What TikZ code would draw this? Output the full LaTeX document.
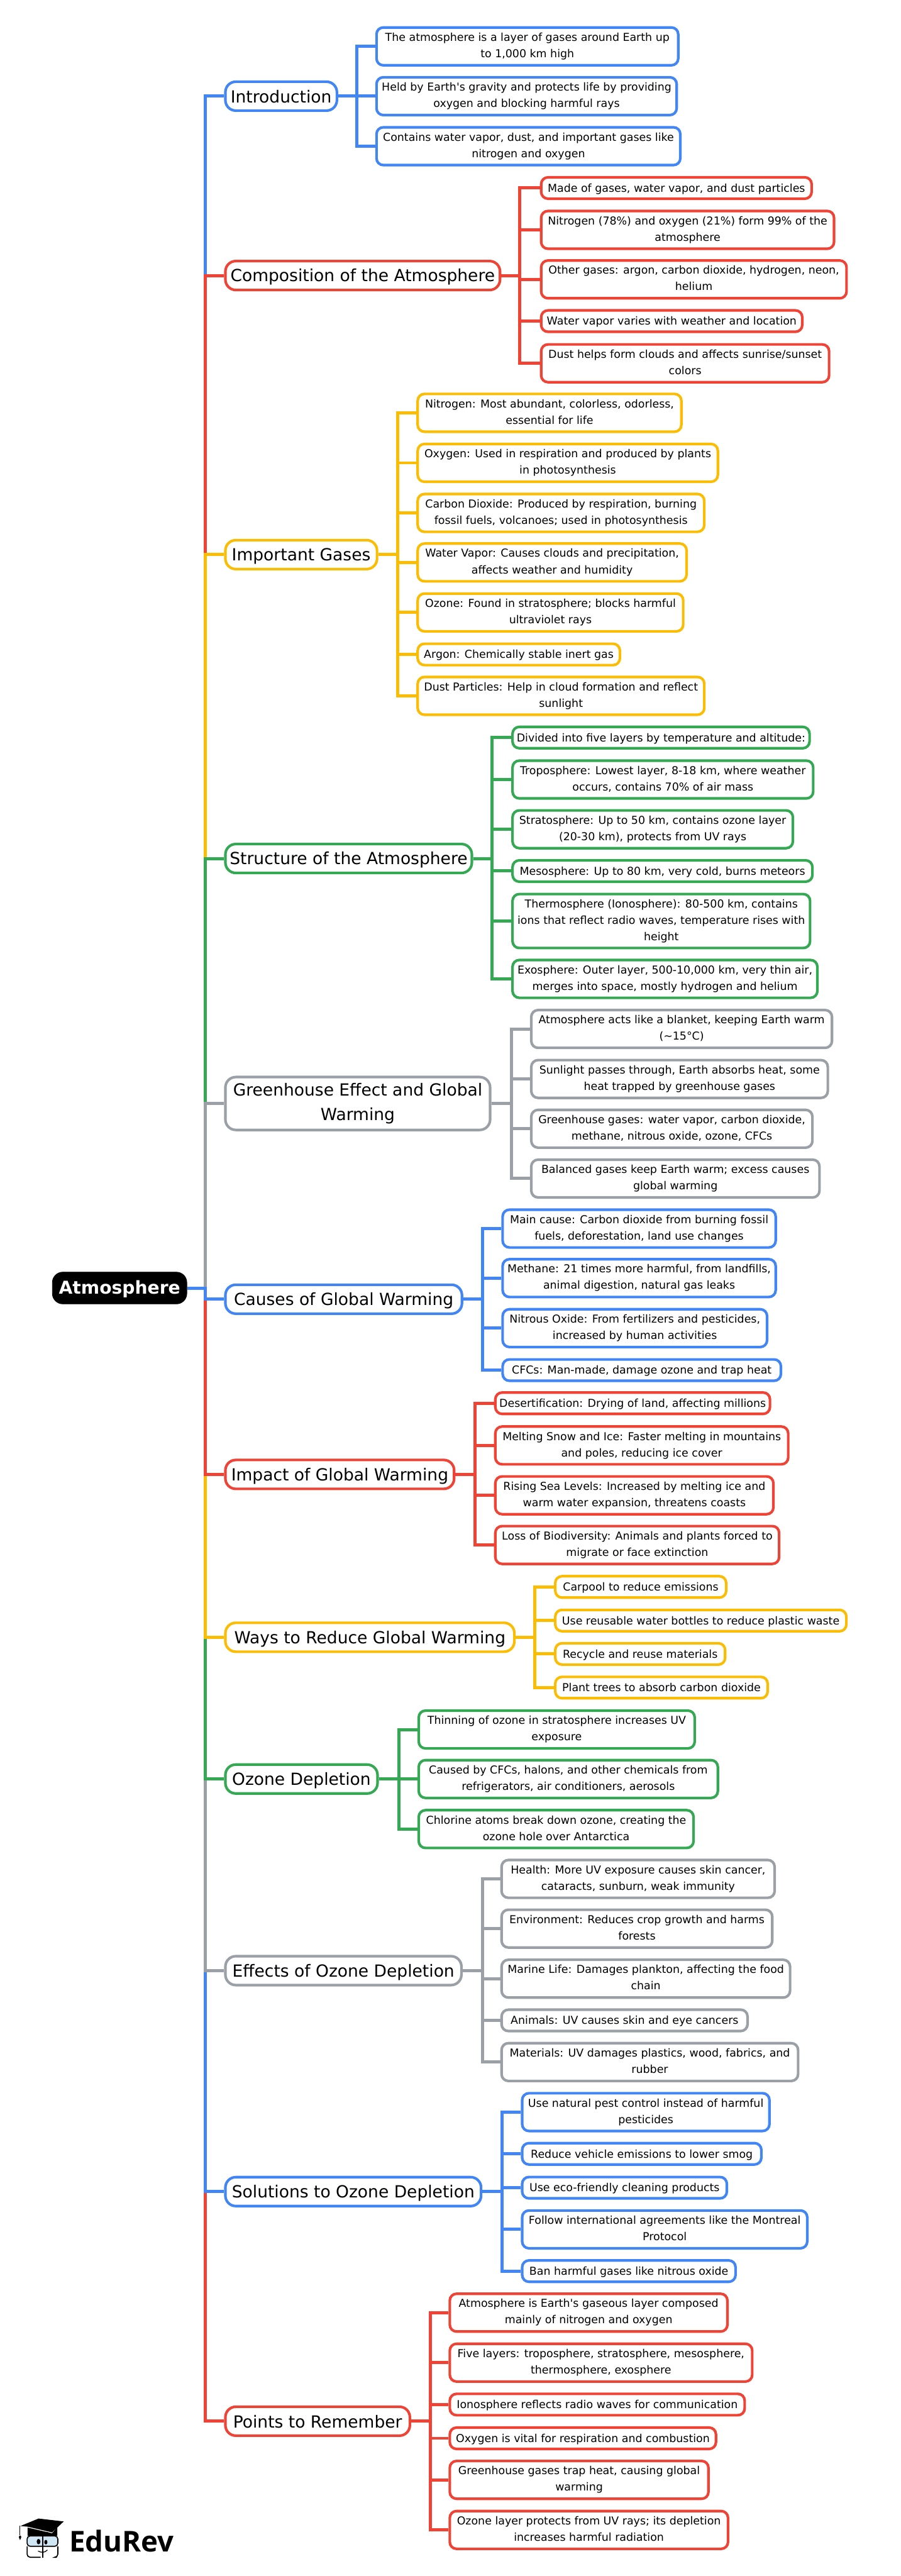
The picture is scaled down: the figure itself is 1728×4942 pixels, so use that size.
\documentclass[tikz,border=0pt]{standalone}
\usepackage{fontspec}
\setmainfont{DejaVu Sans}
\newfontfamily\logofont{Open Sans}
\usetikzlibrary{backgrounds}
\definecolor{cB}{HTML}{4285F4}
\definecolor{cR}{HTML}{EF4336}
\definecolor{cY}{HTML}{FBBC04}
\definecolor{cG}{HTML}{34A853}
\definecolor{cK}{HTML}{9AA0A6}
\definecolor{cLens}{HTML}{CFE6F5}
\tikzset{
  rootbox/.style={draw=black,fill=black,text=white,line width=1pt,rounded corners=20pt,inner sep=0pt,
    minimum width=258pt,minimum height=61pt,align=center,font=\fontsize{34}{48}\selectfont\bfseries,
    execute at begin node={\rule{0pt}{30pt}},execute at end node={\rule[-4pt]{0pt}{4pt}}},
  topic/.style={draw=#1,fill=white,text=black,line width=5pt,rounded corners=20pt,inner sep=0pt,
    minimum height=55.5pt,align=center,font=\fontsize{32}{47.5}\selectfont,
    execute at begin node={\rule{0pt}{30pt}},execute at end node={\rule[-5.6pt]{0pt}{5.6pt}}},
  kid/.style={draw=#1,fill=white,text=black,line width=5pt,rounded corners=13pt,inner sep=0pt,
    align=center,font=\fontsize{21}{31.4}\selectfont,
    execute at begin node={\rule{0pt}{20pt}},execute at end node={\rule[-4.6pt]{0pt}{4.6pt}}},
  h1/.style={minimum height=41pt},
  h2/.style={minimum height=72.5pt},
  h3/.style={minimum height=103.5pt},
  link/.style={draw=#1,line width=6pt},
}
\begin{document}
\begin{tikzpicture}[x=1pt,y=-1pt]
\useasboundingbox (0,0) rectangle (1728,4942);
\node[rootbox] (root) at (229.5,2471) {Atmosphere};
% topics
\node[topic=cB,minimum width=214pt] (t1) at (539.5,184.5) {Introduction};
\node[topic=cR,minimum width=527pt] (t2) at (696,528.6) {Composition of the Atmosphere};
\node[topic=cY,minimum width=291pt] (t3) at (578,1064) {Important Gases};
\node[topic=cG,minimum width=473pt] (t4) at (669,1647) {Structure of the Atmosphere};
\node[topic=cK,minimum width=508pt,minimum height=101.5pt] (t5) at (686.5,2117) {Greenhouse Effect and Global\\Warming};
\node[topic=cB,minimum width=454pt] (t6) at (659.5,2492.5) {Causes of Global Warming};
\node[topic=cR,minimum width=439pt] (t7) at (652,2828.6) {Impact of Global Warming};
\node[topic=cY,minimum width=554.6pt] (t8) at (709.8,3141) {Ways to Reduce Global Warming};
\node[topic=cG,minimum width=292pt] (t9) at (578.5,3413) {Ozone Depletion};
\node[topic=cK,minimum width=453pt] (t10) at (659,3780.6) {Effects of Ozone Depletion};
\node[topic=cB,minimum width=490.7pt] (t11) at (677.85,4204.5) {Solutions to Ozone Depletion};
\node[topic=cR,minimum width=354pt] (t12) at (609.5,4645) {Points to Remember};
% Introduction
\node[kid=cB,h2,minimum width=579pt] (a1) at (1012,89) {The atmosphere is a layer of gases around Earth up\\to 1,000 km high};
\node[kid=cB,h2,minimum width=576pt] (a2) at (1010.5,184.5) {Held by Earth\textquotesingle s gravity and protects life by providing\\oxygen and blocking harmful rays};
\node[kid=cB,h2,minimum width=583pt] (a3) at (1014,280.5) {Contains water vapor, dust, and important gases like\\nitrogen and oxygen};
% Composition
\node[kid=cR,h1,minimum width=519pt] (b1) at (1298,360.7) {Made of gases, water vapor, and dust particles};
\node[kid=cR,h2,minimum width=562pt] (b2) at (1319.5,441) {Nitrogen (78\%) and oxygen (21\%) form 99\% of the\\atmosphere};
\node[kid=cR,h2,minimum width=586pt] (b3) at (1331.5,536) {Other gases: argon, carbon dioxide, hydrogen, neon,\\helium};
\node[kid=cR,h1,minimum width=501pt] (b4) at (1289,616) {Water vapor varies with weather and location};
\node[kid=cR,h2,minimum width=552.5pt] (b5) at (1314.75,697) {Dust helps form clouds and affects sunrise/sunset\\colors};
% Important gases
\node[kid=cY,h2,minimum width=506pt] (c1) at (1054.5,792) {Nitrogen: Most abundant, colorless, odorless,\\essential for life};
\node[kid=cY,h2,minimum width=576pt] (c2) at (1089.5,888) {Oxygen: Used in respiration and produced by plants\\in photosynthesis};
\node[kid=cY,h2,minimum width=550pt] (c3) at (1076.5,984) {Carbon Dioxide: Produced by respiration, burning\\fossil fuels, volcanoes; used in photosynthesis};
\node[kid=cY,h2,minimum width=516pt] (c4) at (1059.5,1079) {Water Vapor: Causes clouds and precipitation,\\affects weather and humidity};
\node[kid=cY,h2,minimum width=509.6pt] (c5) at (1056.3,1175) {Ozone: Found in stratosphere; blocks harmful\\ultraviolet rays};
\node[kid=cY,h1,minimum width=388pt] (c6) at (995.5,1255.5) {Argon: Chemically stable inert gas};
\node[kid=cY,h2,minimum width=550pt] (c7) at (1076.5,1335) {Dust Particles: Help in cloud formation and reflect\\sunlight};
% Structure
\node[kid=cG,h1,minimum width=570pt] (d1) at (1268.5,1415) {Divided into five layers by temperature and altitude:};
\node[kid=cG,h2,minimum width=577pt] (d2) at (1272,1495.5) {Troposphere: Lowest layer, 8-18 km, where weather\\occurs, contains 70\% of air mass};
\node[kid=cG,h2,minimum width=538pt] (d3) at (1252.5,1591) {Stratosphere: Up to 50 km, contains ozone layer\\(20-30 km), protects from UV rays};
\node[kid=cG,h1,minimum width=575.5pt] (d4) at (1271.25,1671) {Mesosphere: Up to 80 km, very cold, burns meteors};
\node[kid=cG,h3,minimum width=571pt] (d5) at (1269,1767) {Thermosphere (Ionosphere): 80-500 km, contains\\ions that reflect radio waves, temperature rises with\\height};
\node[kid=cG,h2,minimum width=585pt] (d6) at (1276,1878) {Exosphere: Outer layer, 500-10,000 km, very thin air,\\merges into space, mostly hydrogen and helium};
% Greenhouse
\node[kid=cK,h2,minimum width=577pt] (e1) at (1308,1974) {Atmosphere acts like a blanket, keeping Earth warm\\(\textasciitilde 15°C)};
\node[kid=cK,h2,minimum width=569pt] (e2) at (1304,2070) {Sunlight passes through, Earth absorbs heat, some\\heat trapped by greenhouse gases};
\node[kid=cK,h2,minimum width=539.5pt] (e3) at (1289.25,2165.5) {Greenhouse gases: water vapor, carbon dioxide,\\methane, nitrous oxide, ozone, CFCs};
\node[kid=cK,h2,minimum width=553pt] (e4) at (1296,2261) {Balanced gases keep Earth warm; excess causes\\global warming};
% Causes
\node[kid=cB,h2,minimum width=524pt] (f1) at (1226.5,2357) {Main cause: Carbon dioxide from burning fossil\\fuels, deforestation, land use changes};
\node[kid=cB,h2,minimum width=524pt] (f2) at (1226.5,2452) {Methane: 21 times more harmful, from landfills,\\animal digestion, natural gas leaks};
\node[kid=cB,h2,minimum width=507.5pt] (f3) at (1218.25,2548) {Nitrous Oxide: From fertilizers and pesticides,\\increased by human activities};
\node[kid=cB,h1,minimum width=534pt] (f4) at (1231.5,2628.5) {CFCs: Man-made, damage ozone and trap heat};
% Impact
\node[kid=cR,h1,minimum width=527pt] (g1) at (1214,2692) {Desertification: Drying of land, affecting millions};
\node[kid=cR,h2,minimum width=562pt] (g2) at (1231.5,2773) {Melting Snow and Ice: Faster melting in mountains\\and poles, reducing ice cover};
\node[kid=cR,h2,minimum width=533.6pt] (g3) at (1217.3,2868.7) {Rising Sea Levels: Increased by melting ice and\\warm water expansion, threatens coasts};
\node[kid=cR,h2,minimum width=544.6pt] (g4) at (1222.8,2964) {Loss of Biodiversity: Animals and plants forced to\\migrate or face extinction};
% Ways
\node[kid=cY,h1,minimum width=328pt] (h1n) at (1229.5,3044.4) {Carpool to reduce emissions};
\node[kid=cY,h1,minimum width=558.6pt] (h2n) at (1344.8,3109) {Use reusable water bottles to reduce plastic waste};
\node[kid=cY,h1,minimum width=326pt] (h3n) at (1228.5,3173) {Recycle and reuse materials};
\node[kid=cY,h1,minimum width=407.6pt] (h4n) at (1269.3,3237.5) {Plant trees to absorb carbon dioxide};
% Ozone depletion
\node[kid=cG,h2,minimum width=529.6pt] (i1) at (1068.3,3318) {Thinning of ozone in stratosphere increases UV\\exposure};
\node[kid=cG,h2,minimum width=574pt] (i2) at (1090.5,3413) {Caused by CFCs, halons, and other chemicals from\\refrigerators, air conditioners, aerosols};
\node[kid=cG,h2,minimum width=527.4pt] (i3) at (1067.2,3509) {Chlorine atoms break down ozone, creating the\\ozone hole over Antarctica};
% Effects
\node[kid=cK,h2,minimum width=524pt] (j1) at (1224.5,3604.6) {Health: More UV exposure causes skin cancer,\\cataracts, sunburn, weak immunity};
\node[kid=cK,h2,minimum width=519.4pt] (j2) at (1222.2,3700) {Environment: Reduces crop growth and harms\\forests};
\node[kid=cK,h2,minimum width=553.6pt] (j3) at (1239.3,3796) {Marine Life: Damages plankton, affecting the food\\chain};
\node[kid=cK,h1,minimum width=472pt] (j4) at (1198.5,3876) {Animals: UV causes skin and eye cancers};
\node[kid=cK,h2,minimum width=569pt] (j5) at (1247,3956) {Materials: UV damages plastics, wood, fabrics, and\\rubber};
% Solutions
\node[kid=cB,h2,minimum width=474.5pt] (k1) at (1239.25,4052) {Use natural pest control instead of harmful\\pesticides};
\node[kid=cB,h1,minimum width=459pt] (k2) at (1231.5,4132) {Reduce vehicle emissions to lower smog};
\node[kid=cB,h1,minimum width=392.8pt] (k3) at (1198.4,4197) {Use eco-friendly cleaning products};
\node[kid=cB,h2,minimum width=547.1pt] (k4) at (1275.55,4277) {Follow international agreements like the Montreal\\Protocol};
\node[kid=cB,h1,minimum width=409.5pt] (k5) at (1206.75,4357) {Ban harmful gases like nitrous oxide};
% Points
\node[kid=cR,h2,minimum width=532.8pt] (l1) at (1129.5,4436.7) {Atmosphere is Earth\textquotesingle s gaseous layer composed\\mainly of nitrogen and oxygen};
\node[kid=cR,h2,minimum width=580.4pt] (l2) at (1153.3,4532.7) {Five layers: troposphere, stratosphere, mesosphere,\\thermosphere, exosphere};
\node[kid=cR,h1,minimum width=565.9pt] (l3) at (1146.05,4613) {Ionosphere reflects radio waves for communication};
\node[kid=cR,h1,minimum width=510.8pt] (l4) at (1118.5,4677.7) {Oxygen is vital for respiration and combustion};
\node[kid=cR,h2,minimum width=496.4pt] (l5) at (1111.3,4757.5) {Greenhouse gases trap heat, causing global\\warming};
\node[kid=cR,h2,minimum width=533.9pt] (l6) at (1130.05,4853.6) {Ozone layer protects from UV rays; its depletion\\increases harmful radiation};
% connectors, under the boxes
\begin{pgfonlayer}{background}
\foreach \t/\c in {t1/cB,t2/cR,t3/cY,t4/cG,t5/cK,t12/cR,t11/cB,t10/cK,t9/cG,t8/cY,t7/cR,t6/cB}
  \draw[link=\c] (root.east) -- ++(35,0) |- (\t.west);
\foreach \k in {a1,a2,a3} \draw[link=cB] (t1.east) -- ++(36,0) |- (\k.west);
\foreach \k in {b1,b2,b3,b4,b5} \draw[link=cR] (t2.east) -- ++(35,0) |- (\k.west);
\foreach \k in {c1,c2,c3,c4,c5,c6,c7} \draw[link=cY] (t3.east) -- ++(36.6,0) |- (\k.west);
\foreach \k in {d1,d2,d3,d4,d5,d6} \draw[link=cG] (t4.east) -- ++(36.4,0) |- (\k.west);
\foreach \k in {e1,e2,e3,e4} \draw[link=cK] (t5.east) -- ++(38,0) |- (\k.west);
\foreach \k in {f1,f2,f3,f4} \draw[link=cB] (t6.east) -- ++(36.7,0) |- (\k.west);
\foreach \k in {g1,g2,g3,g4} \draw[link=cR] (t7.east) -- ++(37,0) |- (\k.west);
\foreach \k in {h1n,h2n,h3n,h4n} \draw[link=cY] (t8.east) -- ++(36.4,0) |- (\k.west);
\foreach \k in {i1,i2,i3} \draw[link=cG] (t9.east) -- ++(38,0) |- (\k.west);
\foreach \k in {j1,j2,j3,j4,j5} \draw[link=cK] (t10.east) -- ++(37.7,0) |- (\k.west);
\foreach \k in {k1,k2,k3,k4,k5} \draw[link=cB] (t11.east) -- ++(37.3,0) |- (\k.west);
\foreach \k in {l1,l2,l3,l4,l5,l6} \draw[link=cR] (t12.east) -- ++(36.4,0) |- (\k.west);
\end{pgfonlayer}
% logo
\node[anchor=base west,inner sep=0pt,font=\logofont\bfseries\fontsize{55}{60}\selectfont] (logo) at (133,4896) {EduRev};
\fill[black] (39.3,4846) -- (74,4831.7) -- (122.3,4837.3) -- (100,4858.3) -- (53,4847.3) -- cycle;
\fill[black] (53,4849) -- (100,4860) -- (110,4848) -- (110,4865) -- (53,4865) -- cycle;
\draw[black,line width=1pt] (38.5,4846) -- (38.5,4864);
\fill[black] (38.5,4873) .. controls (35,4867) and (36,4864) .. (38.5,4864) .. controls (41,4864) and (42,4867) .. (38.5,4873) -- cycle;
\draw[black,line width=2pt,fill=cLens,rounded corners=6pt] (52,4865) rectangle (111,4885);
\draw[black,line width=2pt,rounded corners=6pt] (52,4885) -- (52,4906) -- (78,4906);
\draw[black,line width=2pt,rounded corners=6pt] (111,4885) -- (111,4906) -- (109,4906);
\draw[black,line width=2pt] (82,4863) -- (82,4907);
\fill[black] (74,4876) ellipse (3.6 and 5.2);
\fill[black] (88,4877) ellipse (3 and 4.4);
\draw[black,line width=1.5pt] (73,4894) .. controls (80,4898) and (86,4897) .. (91,4892);
\draw[black,line width=1pt] (63,4860) .. controls (67,4855) and (75,4855) .. (79,4860);
\draw[black,line width=1pt] (84,4860) .. controls (87,4857) and (91,4857) .. (94,4860);
\end{tikzpicture}
\end{document}
